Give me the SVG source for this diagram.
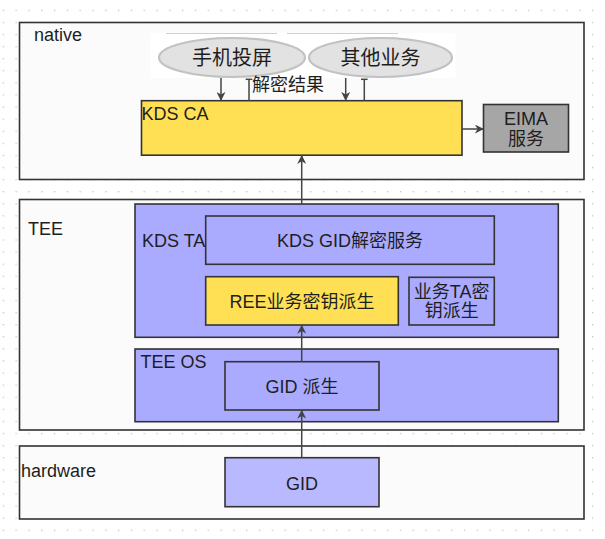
<svg xmlns="http://www.w3.org/2000/svg" width="605" height="539" viewBox="0 0 605 539">
<defs>
<pattern id="grid" patternUnits="userSpaceOnUse" x="2.7" y="9.7" width="12.81" height="12.09">
<rect x="0" y="0" width="1.3" height="1.3" fill="#c4c4c4"/>
</pattern>
<marker id="ah" viewBox="0 0 10 10" refX="9" refY="5" markerWidth="9" markerHeight="9" markerUnits="userSpaceOnUse" orient="auto">
<path d="M0,0 L10,5 L0,10 L3,5 z" fill="#444"/>
</marker>
</defs>
<style>
.t{font-family:"Liberation Sans","Noto Sans CJK SC",sans-serif;font-size:18px;fill:#1e1e1e}
.c{text-anchor:middle}
.layer{fill:#fbfbfb;stroke:#333;stroke-width:1.6}
.blue{fill:#aaaaff;stroke:#333;stroke-width:1.6}
.yellow{fill:#ffe055;stroke:#333;stroke-width:1.6}
.grey{fill:#a6a6a6;stroke:#333;stroke-width:1.6}
.ell{fill:#e2e2e2;stroke:#c2c2c2;stroke-width:2.2}
.conn{fill:none;stroke:#444;stroke-width:1.5}
</style>
<rect x="0" y="0" width="605" height="539" fill="#ffffff"/>
<rect x="0" y="0" width="605" height="539" fill="url(#grid)"/>

<g id="native">
<rect class="layer" x="19.5" y="22.5" width="564.5" height="157"/>
<text class="t" x="34" y="40.5">native</text>
</g>
<g id="tee">
<rect class="layer" x="19.5" y="199.5" width="564.5" height="230.5"/>
<text class="t" x="28" y="235">TEE</text>
</g>
<g id="hardware">
<rect class="layer" x="19.5" y="446" width="564.5" height="73"/>
<text class="t" x="21" y="477">hardware</text>
</g>

<g id="apps-bg">
<rect x="150.5" y="33" width="305" height="45" fill="#ffffff"/>
<line x1="166" y1="33.5" x2="277" y2="33.5" stroke="#cfcfcf" stroke-width="1"/>
<line x1="287" y1="33.5" x2="398" y2="33.5" stroke="#cfcfcf" stroke-width="1"/>
</g>
<g id="phone-cast">
<ellipse class="ell" cx="232" cy="57.5" rx="73" ry="19.5"/>
<text class="t c" x="232" y="64.5" style="font-size:20px">手机投屏</text>
</g>
<g id="other-biz">
<ellipse class="ell" cx="380.5" cy="57.5" rx="71.5" ry="19.5"/>
<text class="t c" x="380.5" y="64.5" style="font-size:20px">其他业务</text>
</g>

<g id="kds-ca">
<rect class="yellow" x="141.5" y="100.7" width="320.5" height="54.5"/>
<text class="t" x="141.5" y="120">KDS CA</text>
</g>
<g id="eima">
<rect class="grey" x="483.5" y="104.5" width="85" height="47.5"/>
<text class="t c" x="526" y="125">EIMA</text>
<text class="t c" x="526" y="145">服务</text>
</g>

<g id="kds-ta">
<rect class="blue" x="135" y="204" width="423.3" height="133.3"/>
<text class="t" x="142" y="247">KDS TA</text>
</g>
<g id="kds-gid-decrypt">
<rect class="blue" x="205.7" y="216" width="288.6" height="48.3"/>
<text class="t c" x="350" y="247">KDS GID解密服务</text>
</g>
<g id="ree-key-derive">
<rect class="yellow" x="205.7" y="276.7" width="192.6" height="48.3"/>
<text class="t c" x="302" y="307.5">REE业务密钥派生</text>
</g>
<g id="ta-key-derive">
<rect class="blue" x="409" y="277.3" width="85.3" height="47.7"/>
<text class="t c" x="451.7" y="298">业务TA密</text>
<text class="t c" x="451.7" y="317">钥派生</text>
</g>

<g id="tee-os">
<rect class="blue" x="135" y="349" width="423.3" height="72.7"/>
<text class="t" x="140.5" y="368">TEE OS</text>
</g>
<g id="gid-derive">
<rect class="blue" x="225" y="361.7" width="154" height="48.3"/>
<text class="t c" x="302" y="393">GID 派生</text>
</g>
<g id="gid">
<rect x="225" y="457.7" width="154" height="49" fill="#b9b9ff" stroke="#333" stroke-width="1.6"/>
<text class="t c" x="302" y="490">GID</text>
</g>

<g id="connectors">
<line class="conn" x1="221" y1="78" x2="221" y2="100" marker-end="url(#ah)"/>
<line class="conn" x1="249" y1="100.7" x2="249" y2="79.3"/>
<line class="conn" x1="245.7" y1="79.3" x2="252.3" y2="79.3"/>
<line class="conn" x1="345.7" y1="78" x2="345.7" y2="100" marker-end="url(#ah)"/>
<line class="conn" x1="364.3" y1="100.7" x2="364.3" y2="79.3"/>
<line class="conn" x1="361" y1="79.3" x2="367.6" y2="79.3"/>
<text class="t" x="252" y="90.5">解密结果</text>
<line class="conn" x1="462" y1="129" x2="483" y2="129" marker-end="url(#ah)"/>
<line class="conn" x1="301.7" y1="204" x2="301.7" y2="155.8" marker-end="url(#ah)"/>
<line class="conn" x1="301.7" y1="361.7" x2="301.7" y2="325.6" marker-end="url(#ah)"/>
<line class="conn" x1="301.7" y1="457.7" x2="301.7" y2="410.6" marker-end="url(#ah)"/>
</g>
</svg>
